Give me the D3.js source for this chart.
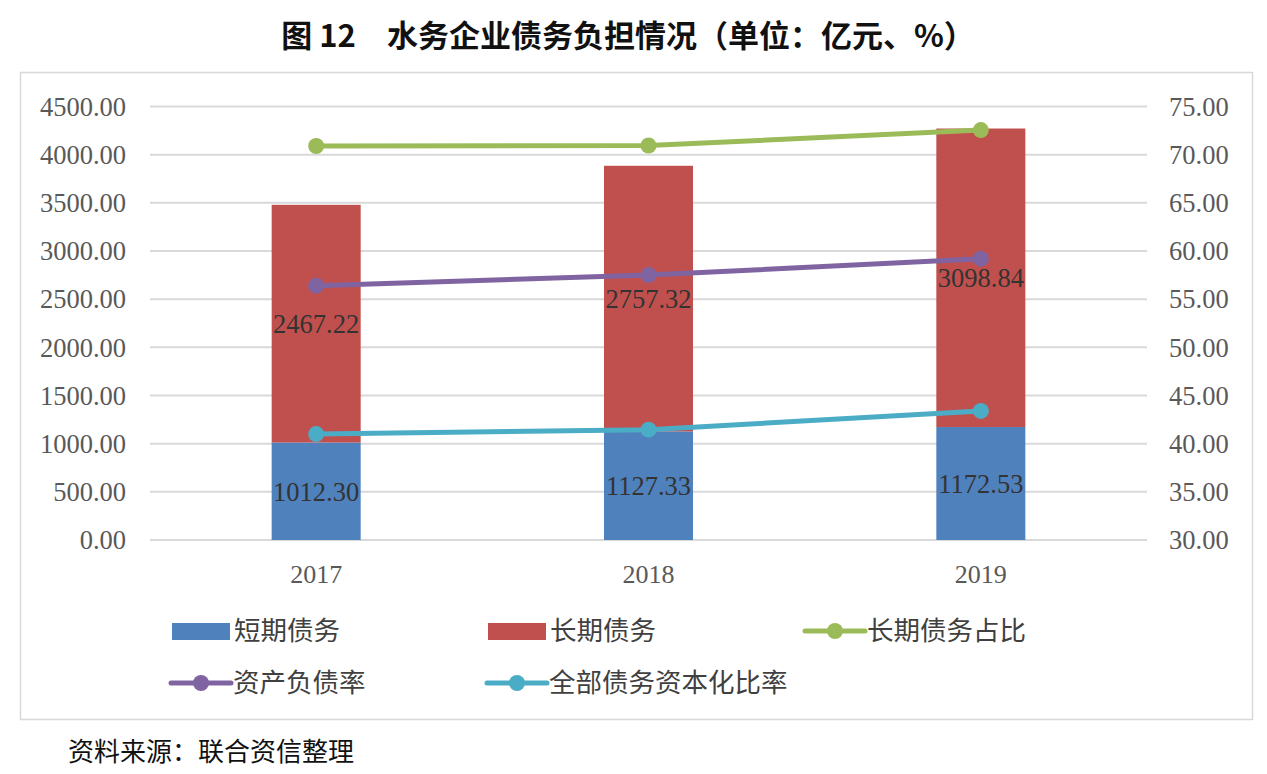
<!DOCTYPE html>
<head>
  <meta charset="utf-8">
  <script src="https://d3js.org/d3.v7.min.js"></script>
  <style>
    body { margin:0; background:#fff; }
    .num { font-family: "Liberation Serif", "Times New Roman", serif; }
    .cjk { font-family: "Noto Sans CJK SC", sans-serif; }
  </style>
</head>
<body>
  <script>
    var years = ['2017', '2018', '2019'];
    var shortDebt = [1012.30, 1127.33, 1172.53];
    var longDebt = [2467.22, 2757.32, 3098.84];
    var longRatio = [70.9, 70.95, 72.55];      // 长期债务占比
    var debtRatio = [56.4, 57.5, 59.2];        // 资产负债率
    var capRatio = [41.0, 41.45, 43.4];        // 全部债务资本化比率
    var leftTicks = [0, 500, 1000, 1500, 2000, 2500, 3000, 3500, 4000, 4500];
    var rightTicks = [30, 35, 40, 45, 50, 55, 60, 65, 70, 75];

    var width = 1267, height = 774;
    var svg = d3.select('body').append('svg')
      .attr('width', width)
      .attr('height', height);

    // title
    svg.append('text')
      .attr('class', 'cjk')
      .attr('x', 628).attr('y', 47)
      .attr('text-anchor', 'middle')
      .style('font-size', '31px').style('font-weight', 'bold').style('fill', '#111')
      .text('图 12\u3000水务企业债务负担情况（单位：亿元、%）');

    // chart frame
    svg.append('rect')
      .attr('x', 20.5).attr('y', 72.5)
      .attr('width', 1232).attr('height', 647)
      .attr('fill', 'none').attr('stroke', '#d9d9d9').attr('stroke-width', 1.5);

    var plotLeft = 150, plotRight = 1147, plotTop = 106.5, plotBottom = 540;

    var x = d3.scaleBand().domain(years).range([plotLeft, plotRight]);
    var yL = d3.scaleLinear().domain([0, 4500]).range([plotBottom, plotTop]);
    var yR = d3.scaleLinear().domain([30, 75]).range([plotBottom, plotTop]);
    function cx(year) { return x(year) + x.bandwidth() / 2; }

    // gridlines
    svg.selectAll('.grid')
      .data(leftTicks)
      .enter().append('line')
      .attr('x1', plotLeft).attr('x2', plotRight)
      .attr('y1', function(d) { return yL(d); })
      .attr('y2', function(d) { return yL(d); })
      .attr('stroke', '#d9d9d9').attr('stroke-width', 2);

    // left axis labels
    svg.selectAll('.ltick')
      .data(leftTicks)
      .enter().append('text')
      .attr('class', 'num')
      .attr('x', 126)
      .attr('y', function(d) { return yL(d); })
      .attr('dy', '0.35em')
      .attr('text-anchor', 'end')
      .style('font-size', '26.5px').style('fill', '#595959')
      .text(function(d) { return d.toFixed(2); });

    // right axis labels
    svg.selectAll('.rtick')
      .data(rightTicks)
      .enter().append('text')
      .attr('class', 'num')
      .attr('x', 1169)
      .attr('y', function(d) { return yR(d); })
      .attr('dy', '0.35em')
      .style('font-size', '26.5px').style('fill', '#595959')
      .text(function(d) { return d.toFixed(2); });

    // x labels
    svg.selectAll('.xtick')
      .data(years)
      .enter().append('text')
      .attr('class', 'num')
      .attr('x', function(d) { return cx(d); })
      .attr('y', 583)
      .attr('text-anchor', 'middle')
      .style('font-size', '26px').style('fill', '#595959')
      .text(function(d) { return d; });

    // stacked bars
    var bw = 89;
    var stack = years.map(function(y, i) {
      return { year: y, s: shortDebt[i], l: longDebt[i] };
    });
    var bars = svg.selectAll('.bar').data(stack).enter().append('g');
    bars.append('rect')
      .attr('x', function(d) { return cx(d.year) - bw / 2; })
      .attr('y', function(d) { return yL(d.s); })
      .attr('width', bw)
      .attr('height', function(d) { return yL(0) - yL(d.s); })
      .attr('fill', '#4f81bd');
    bars.append('rect')
      .attr('x', function(d) { return cx(d.year) - bw / 2; })
      .attr('y', function(d) { return yL(d.s + d.l); })
      .attr('width', bw)
      .attr('height', function(d) { return yL(d.s) - yL(d.s + d.l); })
      .attr('fill', '#c0504d');

    // lines
    var series = [
      { name: '长期债务占比', color: '#9bbb59', values: longRatio },
      { name: '资产负债率', color: '#8064a2', values: debtRatio },
      { name: '全部债务资本化比率', color: '#4bacc6', values: capRatio }
    ];
    var line = d3.line()
      .x(function(d, i) { return cx(years[i]); })
      .y(function(d) { return yR(d); });

    series.forEach(function(s) {
      svg.append('path')
        .attr('d', line(s.values))
        .attr('fill', 'none')
        .attr('stroke', s.color)
        .attr('stroke-width', 5)
        .attr('stroke-linejoin', 'round');
      svg.selectAll(null)
        .data(s.values)
        .enter().append('circle')
        .attr('cx', function(d, i) { return cx(years[i]); })
        .attr('cy', function(d) { return yR(d); })
        .attr('r', 8)
        .attr('fill', s.color);
    });

    // bar value labels
    bars.append('text')
      .attr('class', 'num')
      .attr('x', function(d) { return cx(d.year); })
      .attr('y', function(d) { return yL(d.s / 2); })
      .attr('dy', '0.35em')
      .attr('text-anchor', 'middle')
      .style('font-size', '26.5px').style('fill', '#333')
      .text(function(d) { return d.s.toFixed(2); });
    bars.append('text')
      .attr('class', 'num')
      .attr('x', function(d) { return cx(d.year); })
      .attr('y', function(d) { return yL(d.s + d.l / 2); })
      .attr('dy', '0.35em')
      .attr('text-anchor', 'middle')
      .style('font-size', '26.5px').style('fill', '#333')
      .text(function(d) { return d.l.toFixed(2); });

    // legend
    var legend = [
      { name: '短期债务', color: '#4f81bd', type: 'rect', x: 172, y: 631 },
      { name: '长期债务', color: '#c0504d', type: 'rect', x: 488, y: 631 },
      { name: '长期债务占比', color: '#9bbb59', type: 'line', x: 805, y: 631 },
      { name: '资产负债率', color: '#8064a2', type: 'line', x: 171, y: 683 },
      { name: '全部债务资本化比率', color: '#4bacc6', type: 'line', x: 487, y: 683 }
    ];
    var lg = svg.selectAll('.legend').data(legend).enter().append('g');
    lg.filter(function(d) { return d.type === 'rect'; })
      .append('rect')
      .attr('x', function(d) { return d.x; })
      .attr('y', function(d) { return d.y - 8; })
      .attr('width', 58).attr('height', 17)
      .attr('fill', function(d) { return d.color; });
    var ll = lg.filter(function(d) { return d.type === 'line'; });
    ll.append('line')
      .attr('x1', function(d) { return d.x; })
      .attr('x2', function(d) { return d.x + 60; })
      .attr('y1', function(d) { return d.y; })
      .attr('y2', function(d) { return d.y; })
      .attr('stroke', function(d) { return d.color; })
      .attr('stroke-width', 5)
      .attr('stroke-linecap', 'round');
    ll.append('circle')
      .attr('cx', function(d) { return d.x + 30; })
      .attr('cy', function(d) { return d.y; })
      .attr('r', 8)
      .attr('fill', function(d) { return d.color; });
    lg.append('text')
      .attr('class', 'cjk')
      .attr('x', function(d) { return d.x + 62; })
      .attr('y', function(d) { return d.y; })
      .attr('dy', '0.35em')
      .style('font-size', '26.5px').style('fill', '#404040')
      .text(function(d) { return d.name; });

    // source
    svg.append('text')
      .attr('class', 'cjk')
      .attr('x', 68).attr('y', 752)
      .attr('dy', '0.35em')
      .style('font-size', '26px').style('fill', '#111')
      .text('资料来源：联合资信整理');
  </script>
</body>
